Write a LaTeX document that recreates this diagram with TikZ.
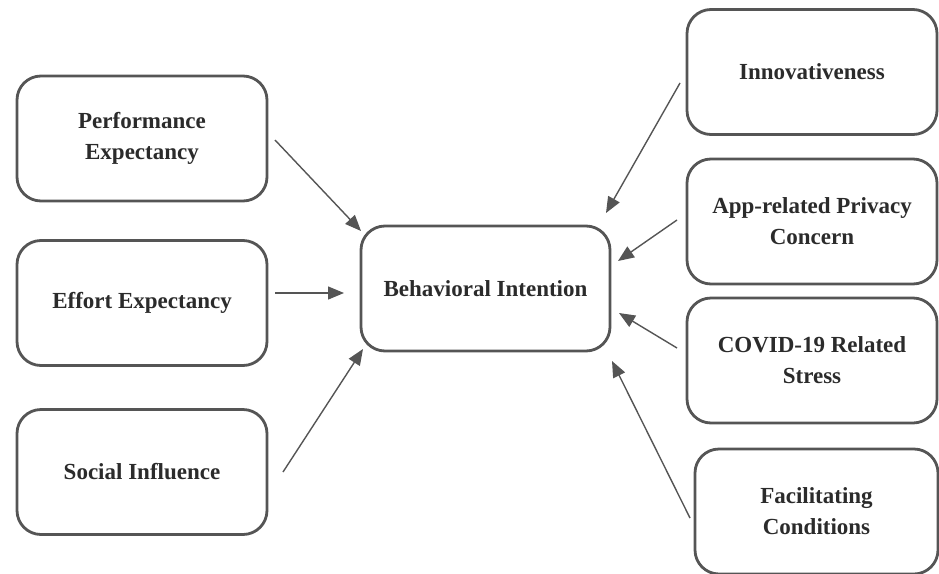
\documentclass[tikz,border=0pt]{standalone}
\usepackage{fontspec}
\setmainfont{Liberation Serif}
\usetikzlibrary{arrows.meta}
\definecolor{boxline}{HTML}{555555}
\definecolor{arrline}{HTML}{555555}
\definecolor{txt}{HTML}{2B2B2B}
\begin{document}
\begin{tikzpicture}[x=1pt,y=-1pt,
  box/.style={draw=boxline, line width=2.8pt, rounded corners=24pt, fill=white,
    minimum width=250pt, minimum height=125pt, align=center, text=txt,
    font=\fontsize{23}{31}\selectfont\bfseries, inner sep=0pt},
  arr/.style={draw=arrline, line width=1.4pt, -{Triangle[length=16pt,width=13pt]}}]
\useasboundingbox (0,0) rectangle (939,573);
\node[box] (pe) at (142,138.5) {Performance\\Expectancy};
\node[box] (ee) at (142,303) {Effort Expectancy};
\node[box] (si) at (142,472) {Social Influence};
\node[box, minimum width=249pt] (bi) at (485.5,288.5) {Behavioral Intention};
\node[box] (in) at (812,72) {Innovativeness};
\node[box] (ap) at (812,221.5) {App-related Privacy\\Concern};
\node[box] (co) at (812,360.5) {COVID-19 Related\\Stress};
\node[box, minimum width=243pt] (fc) at (816.5,511.5) {Facilitating\\Conditions};
\coordinate (pes) at (275,140); \coordinate (pet) at (361,231);
\coordinate (ees) at (275,293); \coordinate (eet) at (344,293);
\coordinate (sis) at (283,472); \coordinate (sit) at (363,349);
\coordinate (ins) at (680,83);  \coordinate (int) at (606,213);
\coordinate (aps) at (677,220); \coordinate (apt) at (618,261);
\coordinate (cos) at (677,348); \coordinate (cot) at (619,313);
\coordinate (fcs) at (690,518); \coordinate (fct) at (612,361);
\draw[arr] (pes) -- (pet);
\draw[arr] (ees) -- (eet);
\draw[arr] (sis) -- (sit);
\draw[arr] (ins) -- (int);
\draw[arr] (aps) -- (apt);
\draw[arr] (cos) -- (cot);
\draw[arr] (fcs) -- (fct);
\end{tikzpicture}
\end{document}
